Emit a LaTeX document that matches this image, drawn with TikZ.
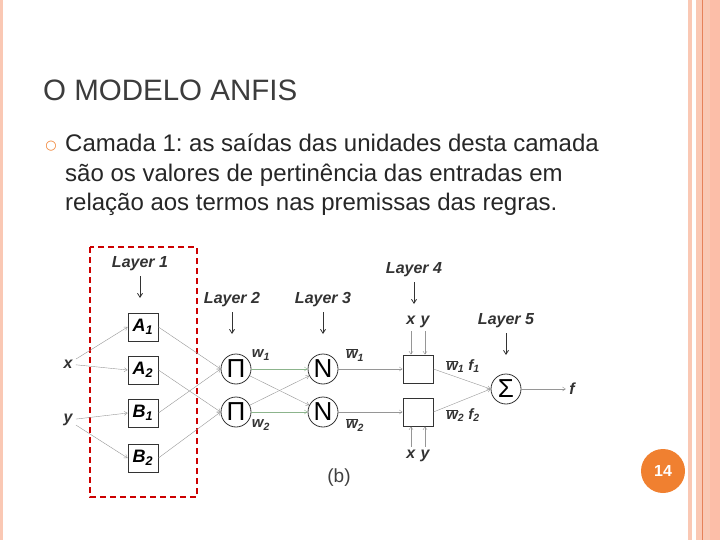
\documentclass[tikz,border=0pt]{standalone}
\usepackage{fontspec}
\setmainfont{Liberation Sans}
\frenchspacing
\usetikzlibrary{arrows.meta}
\definecolor{pinkA}{RGB}{250,200,180}
\definecolor{pinkB}{RGB}{252,190,168}
\definecolor{oline}{RGB}{230,130,90}
\definecolor{tgray}{RGB}{60,60,60}
\definecolor{org}{RGB}{240,128,48}
\definecolor{conn}{RGB}{150,150,150}
\definecolor{gconn}{RGB}{140,180,140}
\begin{document}
\begin{tikzpicture}[x=1pt,y=-1pt,
  lab/.style={font=\bfseries\itshape\fontsize{16}{18}\selectfont,text=black!80},
  sm/.style={font=\bfseries\itshape\fontsize{15}{16}\selectfont,text=black!80},
  mf/.style={draw=black!80,thick,minimum width=30pt,minimum height=28pt,inner sep=0pt,font=\bfseries\itshape\fontsize{18}{18}\selectfont},
  nd/.style={draw=black!80,thick,circle,minimum size=30pt,inner sep=0pt,font=\fontsize{26}{26}\selectfont},
  cn/.style={conn,-{Straight Barb[length=3pt,width=4pt]},thin},
  gcn/.style={gconn,-{Straight Barb[length=3pt,width=4pt]},thin},
  dn/.style={black!80,-{Straight Barb[length=4pt,width=5pt]},thick}]
\useasboundingbox (0,0) rectangle (720,540);
\fill[pinkA] (688,0) rectangle (692,540);
\fill[pinkA] (696,0) rectangle (720,540);
\fill[pinkB] (710,0) rectangle (720,540);
\draw[oline,line width=0.8pt] (702.5,0) -- (702.5,540);
\fill[pinkA] (0,0) rectangle (3,540);
\node[anchor=base west,text=tgray,font=\fontsize{29.5}{34}\selectfont,inner sep=0pt] (title) at (43,101) {O MODELO ANFIS};
\node[text=org,font=\fontsize{13}{13}\selectfont] (bul) at (51,146) {\fontspec{DejaVu Sans}○};
\node[anchor=north west,align=left,text=black!85,font=\fontsize{24}{29.5}\selectfont,inner sep=0pt] (txt) at (65,134)
{Camada 1: as saídas das unidades desta camada\\são os valores de pertinência das entradas em\\relação aos termos nas premissas das regras.};
\node[lab] (x) at (68,364) {x};
\node[lab] (y) at (68,420) {y};
\node[mf] (A1) at (143,327) {A\textsubscript{1}};
\node[mf] (A2) at (143,370) {A\textsubscript{2}};
\node[mf] (B1) at (143,413) {B\textsubscript{1}};
\node[mf] (B2) at (143,458) {B\textsubscript{2}};
\node[nd] (P1) at (236,369) {Π};
\node[nd] (P2) at (236,412) {Π};
\node[nd] (N1) at (323,369) {N};
\node[nd] (N2) at (323,412) {N};
\node[mf] (S1) at (418,369) {};
\node[mf] (S2) at (418,412) {};
\node[nd] (Sg) at (506,389) {Σ};
\node[lab] (f) at (572,389) {f};
\node[lab] (L1) at (140,264) {Layer 1};
\node[lab] (L2) at (232,300) {Layer 2};
\node[lab] (L3) at (323,300) {Layer 3};
\node[lab] (L4) at (414,270) {Layer 4};
\node[lab] (L5) at (506,321) {Layer 5};
\node[lab] (xy1) at (418,322) {x\,\,y};
\node[lab] (xy2) at (418,456) {x\,\,y};
\node[sm] (w1) at (261,355) {w\textsubscript{1}};
\node[sm] (w2) at (261,425) {w\textsubscript{2}};
\node[sm] (wb1) at (355,355) {$\overline{\mbox{w}}$\textsubscript{1}};
\node[sm] (wb2) at (355,425) {$\overline{\mbox{w}}$\textsubscript{2}};
\node[sm] (wf1) at (463,366) {$\overline{\mbox{w}}$\textsubscript{1} f\textsubscript{1}};
\node[sm] (wf2) at (463,415) {$\overline{\mbox{w}}$\textsubscript{2} f\textsubscript{2}};
\node[font=\fontsize{19}{19}\selectfont,text=black!75] (b) at (339,478) {(b)};
\draw[red!80!black,line width=2pt,dash pattern=on 6pt off 4pt] (90,247) rectangle (197,497);
\draw[dn] (L1) ++(0,12) -- ++(0,22);
\draw[dn] (L2) ++(0,12) -- ++(0,22);
\draw[dn] (L3) ++(0,12) -- ++(0,22);
\draw[dn] (L4) ++(0,12) -- ++(0,22);
\draw[dn] (L5) ++(0,12) -- ++(0,22);
\draw[cn] (x) -- (A1.west); \draw[cn] (x) -- (A2.west);
\draw[cn] (y) -- (B1.west); \draw[cn] (y) -- (B2.west);
\draw[cn] (A1.east) -- (P1.west); \draw[cn] (B1.east) -- (P1.west);
\draw[cn] (A2.east) -- (P2.west); \draw[cn] (B2.east) -- (P2.west);
\draw[gcn] (P1) -- (N1); \draw[gcn] (P2) -- (N2);
\draw[cn] (P1) -- (N2); \draw[cn] (P2) -- (N1);
\draw[cn] (N1) -- (S1); \draw[cn] (N2) -- (S2);
\draw[cn] (S1.east) -- (Sg.west); \draw[cn] (S2.east) -- (Sg.west);
\draw[cn] (Sg) -- (f);
\draw[cn] ([xshift=-7pt]xy1.south) -- ([xshift=-7pt]S1.north);
\draw[cn] ([xshift=7pt]xy1.south) -- ([xshift=7pt]S1.north);
\draw[cn] ([xshift=-7pt]xy2.north) -- ([xshift=-7pt]S2.south);
\draw[cn] ([xshift=7pt]xy2.north) -- ([xshift=7pt]S2.south);
\node[circle,fill=org,minimum size=44pt,text=white,font=\bfseries\fontsize{16}{16}\selectfont] (pg) at (663,471) {14};
\end{tikzpicture}
\end{document}
